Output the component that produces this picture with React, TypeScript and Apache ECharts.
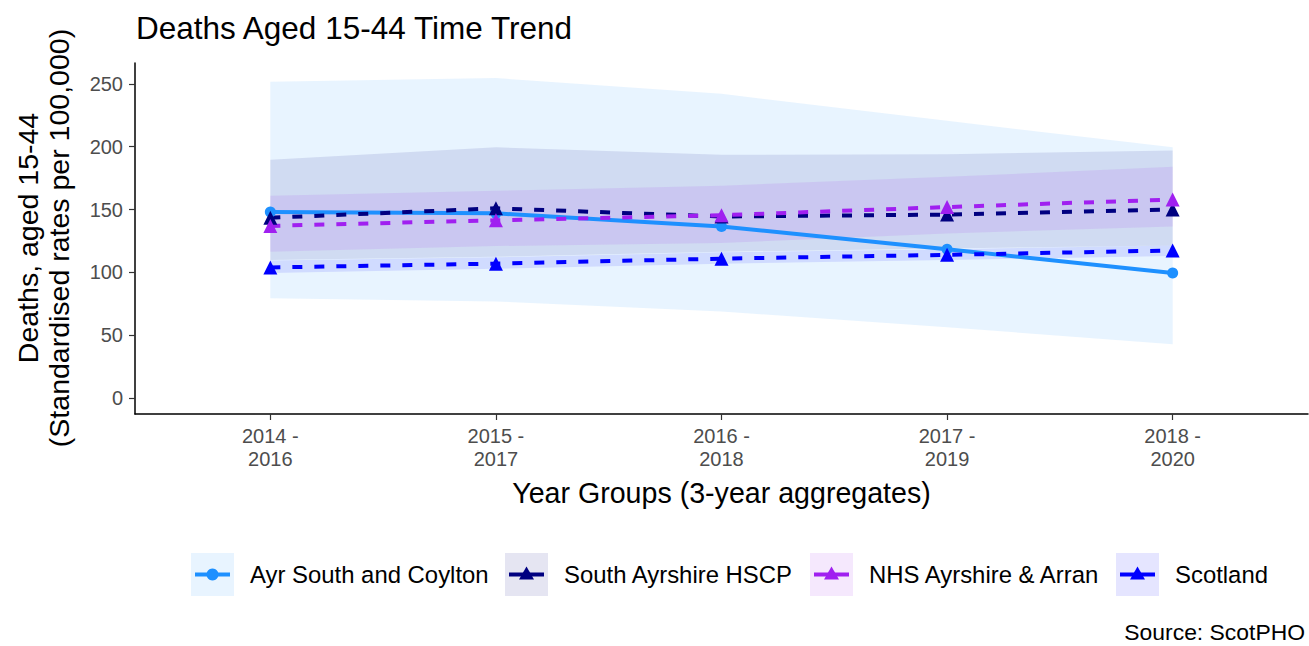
import React, { useEffect, useRef } from "react";
import * as echarts from "echarts";

const categories = ["2014 -\n2016", "2015 -\n2017", "2016 -\n2018", "2017 -\n2019", "2018 -\n2020"];
const yTicks = [0, 50, 100, 150, 200, 250];

const seriesNames = ["Ayr South and Coylton", "South Ayrshire HSCP", "NHS Ayrshire & Arran", "Scotland"];

const ayrValues = [148, 147, 136.5, 118.5, 99.5];
const ayrLower = [79.5, 77, 69, 56.5, 43];
const ayrUpper = [251.5, 254.5, 242, 220.5, 199.5];

const hscpValues = [143.5, 151, 144.5, 146, 150];
const hscpLower = [110, 112.5, 116.5, 119, 121.5];
const hscpUpper = [189.5, 199.5, 193.5, 194, 197];

const nhsValues = [137, 141.5, 145.5, 152, 158];
const nhsLower = [116.5, 121, 123.5, 131, 136.5];
const nhsUpper = [161, 165, 169, 176, 184];

const scotValues = [104, 107, 111, 114, 117.5];
const scotLower = [99.5, 103, 107, 110, 113];
const scotUpper = [109.5, 112, 116, 118.5, 121.5];

const colors = ["#1E90FF", "#000080", "#A020F0", "#0000FF"];
const FONT = "Liberation Sans, Arial, Helvetica, sans-serif";

function hexToRgba(hex: string, a: number) {
  const n = parseInt(hex.slice(1), 16);
  return `rgba(${(n >> 16) & 255},${(n >> 8) & 255},${n & 255},${a})`;
}

export default function App() {
  const ref = useRef<HTMLDivElement>(null);
  useEffect(() => {
    if (!ref.current) return;
    const chart = echarts.init(ref.current, null, { renderer: "svg" });

    const bands = [
      { lower: ayrLower, upper: ayrUpper },
      { lower: hscpLower, upper: hscpUpper },
      { lower: nhsLower, upper: nhsUpper },
      { lower: scotLower, upper: scotUpper },
    ];
    const values = [ayrValues, hscpValues, nhsValues, scotValues];

    const bandSeries = bands.map((b, k) => ({
      type: "custom",
      name: seriesNames[k] + " CI",
      z: 1,
      silent: true,
      data: categories.map((_, i) => [i, b.lower[i], b.upper[i]]),
      encode: { x: 0, y: [1, 2] },
      renderItem: (params: any, api: any) => {
        if (params.dataIndex !== 0) return null;
        const pts: number[][] = [];
        for (let i = 0; i < categories.length; i++) pts.push(api.coord([i, b.upper[i]]));
        for (let i = categories.length - 1; i >= 0; i--) pts.push(api.coord([i, b.lower[i]]));
        return {
          type: "polygon",
          shape: { points: pts },
          style: { fill: hexToRgba(colors[k], 0.1) },
        };
      },
    }));

    const lineSeries = values.map((vals, k) => ({
      type: "line",
      name: seriesNames[k],
      z: 3,
      data: vals.map((v, i) => [i, v]),
      symbol: k === 0 ? "circle" : "triangle",
      symbolSize: k === 0 ? 11 : 14,
      itemStyle: { color: colors[k] },
      lineStyle: { color: colors[k], width: 4, type: k === 0 ? "solid" : [10, 12] },
    }));

    // legend drawn as graphic
    const keyX = [191, 505, 810, 1116];
    const keyY = 553;
    const keyW = 43;
    const keyH = 43;
    const legendGraphics: any[] = [];
    seriesNames.forEach((name, k) => {
      const x = keyX[k];
      const cy = keyY + keyH / 2;
      const cx = x + keyW / 2;
      legendGraphics.push({
        type: "rect",
        shape: { x, y: keyY, width: keyW, height: keyH },
        style: { fill: hexToRgba(colors[k], 0.1) },
      });
      legendGraphics.push({
        type: "line",
        shape: { x1: x + 4, y1: cy, x2: x + keyW - 4, y2: cy },
        style: { stroke: colors[k], lineWidth: 4 },
      });
      if (k === 0) {
        legendGraphics.push({
          type: "circle",
          shape: { cx, cy, r: 6 },
          style: { fill: colors[k] },
        });
      } else {
        legendGraphics.push({
          type: "polygon",
          shape: { points: [[cx, cy - 8], [cx + 7.5, cy + 5], [cx - 7.5, cy + 5]] },
          style: { fill: colors[k] },
        });
      }
      legendGraphics.push({
        type: "text",
        x: x + keyW + 16,
        y: cy,
        style: {
          text: name,
          fontSize: 23.9,
          fontFamily: FONT,
          fill: "#000",
          verticalAlign: "middle",
          align: "left",
        },
      });
    });

    const option: any = {
      animation: false,
      backgroundColor: "#fff",
      textStyle: { fontFamily: FONT },
      title: {
        text: "Deaths Aged 15-44 Time Trend",
        left: 131,
        top: 7,
        textStyle: { fontSize: 31.5, fontWeight: "normal", color: "#000", fontFamily: FONT },
      },
      grid: { left: 135, top: 63, width: 1173, height: 351, containLabel: false },
      xAxis: {
        type: "value",
        min: -0.6,
        max: 4.6,
        name: "Year Groups (3-year aggregates)",
        nameLocation: "middle",
        nameGap: 64,
        nameTextStyle: { fontSize: 28.6, color: "#000", fontFamily: FONT, verticalAlign: "top" },
        axisLine: { show: true, onZero: false, lineStyle: { color: "#000", width: 1.5 } },
        axisTick: { show: true, customValues: [0, 1, 2, 3, 4], length: 6, lineStyle: { color: "#333", width: 1.2 } },
        axisLabel: {
          customValues: [0, 1, 2, 3, 4],
          formatter: (v: number) => categories[Math.round(v)],
          fontSize: 20,
          lineHeight: 23,
          color: "#4d4d4d",
          margin: 10,
          fontFamily: FONT,
        },
        splitLine: { show: false },
      },
      yAxis: {
        type: "value",
        min: -12.5,
        max: 266.5,
        axisLine: { show: true, onZero: false, lineStyle: { color: "#000", width: 1.5 } },
        axisTick: { show: true, customValues: yTicks, length: 6, lineStyle: { color: "#333", width: 1.2 } },
        axisLabel: {
          customValues: yTicks,
          fontSize: 20,
          color: "#4d4d4d",
          margin: 12,
          fontFamily: FONT,
        },
        splitLine: { show: false },
      },
      graphic: [
        {
          type: "text",
          x: 28,
          y: 238,
          rotation: Math.PI / 2,
          style: {
            text: "Deaths, aged 15-44",
            fontSize: 28.5,
            fontFamily: FONT,
            fill: "#000",
            align: "center",
            verticalAlign: "middle",
          },
        },
        {
          type: "text",
          x: 59,
          y: 238,
          rotation: Math.PI / 2,
          style: {
            text: "(Standardised rates per 100,000)",
            fontSize: 28.5,
            fontFamily: FONT,
            fill: "#000",
            align: "center",
            verticalAlign: "middle",
          },
        },
        {
          type: "text",
          x: 1305,
          y: 632,
          style: {
            text: "Source: ScotPHO",
            fontSize: 22.9,
            lineHeight: 24,
            fontFamily: FONT,
            fill: "#000",
            align: "right",
            verticalAlign: "middle",
          },
        },
        ...legendGraphics,
      ],
      series: [...bandSeries, ...lineSeries],
    };
    chart.setOption(option);
    return () => chart.dispose();
  }, []);
  return (
    <div
      ref={ref}
      style={{ position: "absolute", left: 0, top: 0, width: 1309, height: 646 }}
    />
  );
}
